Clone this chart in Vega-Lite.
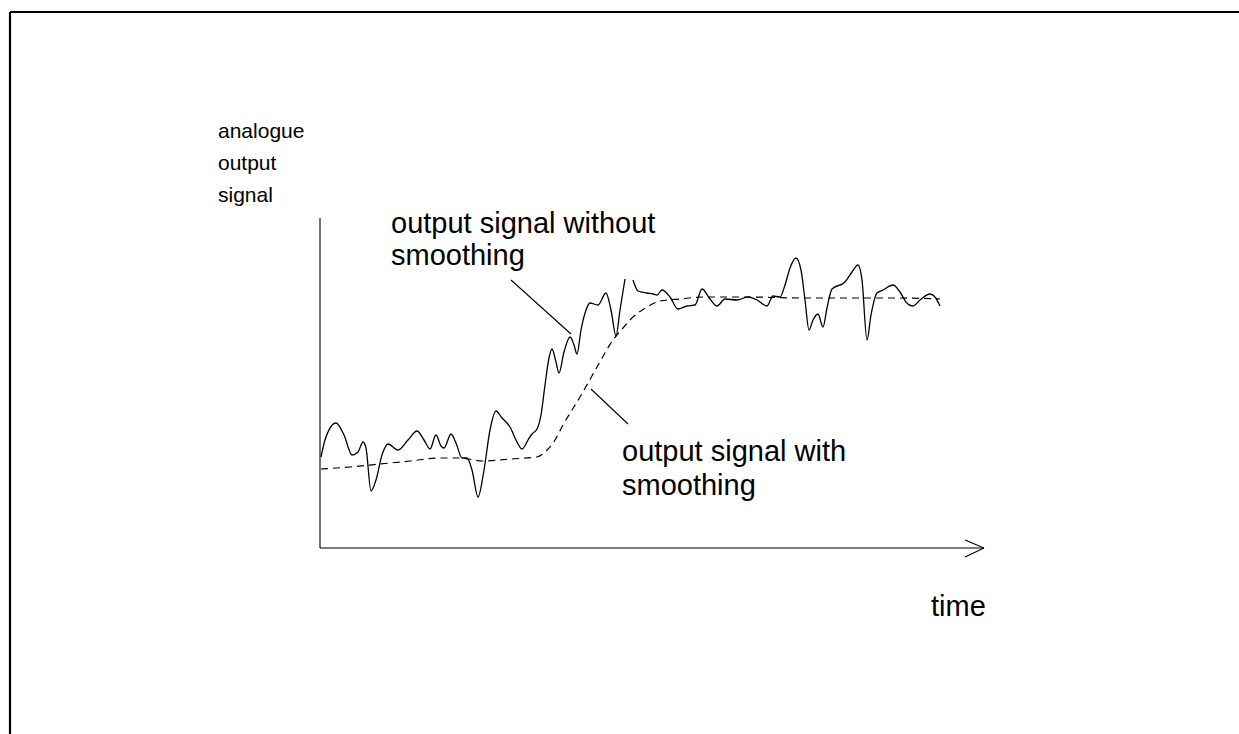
{
  "$schema": "https://vega.github.io/schema/vega-lite/v6.json",
  "width": 1239,
  "height": 734,
  "padding": 0,
  "autosize": {"type": "none"},
  "background": "white",
  "config": {"view": {"stroke": null}},
  "datasets": {
    "noisy": [
      {"time": 321, "level": 457, "seg": "a"}, {"time": 325, "level": 440, "seg": "a"}, {"time": 336, "level": 423, "seg": "a"},
      {"time": 344, "level": 435, "seg": "a"}, {"time": 352, "level": 455, "seg": "a"}, {"time": 358, "level": 452, "seg": "a"},
      {"time": 363, "level": 442, "seg": "a"}, {"time": 366, "level": 448, "seg": "a"}, {"time": 371, "level": 491, "seg": "a"},
      {"time": 376, "level": 480, "seg": "a"}, {"time": 382, "level": 455, "seg": "a"}, {"time": 388, "level": 444, "seg": "a"},
      {"time": 398, "level": 450, "seg": "a"}, {"time": 408, "level": 440, "seg": "a"}, {"time": 417, "level": 431, "seg": "a"},
      {"time": 424, "level": 440, "seg": "a"}, {"time": 430, "level": 449, "seg": "a"}, {"time": 436, "level": 435, "seg": "a"},
      {"time": 441, "level": 446, "seg": "a"}, {"time": 444, "level": 448, "seg": "a"}, {"time": 451, "level": 434, "seg": "a"},
      {"time": 456, "level": 443, "seg": "a"}, {"time": 462, "level": 458, "seg": "a"}, {"time": 467, "level": 458, "seg": "a"},
      {"time": 472, "level": 470, "seg": "a"}, {"time": 478, "level": 497, "seg": "a"}, {"time": 484, "level": 470, "seg": "a"},
      {"time": 490, "level": 430, "seg": "a"}, {"time": 496, "level": 411, "seg": "a"}, {"time": 502, "level": 418, "seg": "a"},
      {"time": 507, "level": 423, "seg": "a"}, {"time": 510, "level": 427, "seg": "a"}, {"time": 516, "level": 440, "seg": "a"},
      {"time": 522, "level": 449, "seg": "a"}, {"time": 528, "level": 440, "seg": "a"}, {"time": 532, "level": 434, "seg": "a"},
      {"time": 537, "level": 429, "seg": "a"}, {"time": 541, "level": 415, "seg": "a"}, {"time": 545, "level": 385, "seg": "a"},
      {"time": 549, "level": 358, "seg": "a"}, {"time": 552, "level": 349, "seg": "a"}, {"time": 556, "level": 362, "seg": "a"},
      {"time": 559, "level": 373, "seg": "a"}, {"time": 564, "level": 352, "seg": "a"}, {"time": 570, "level": 337, "seg": "a"},
      {"time": 574, "level": 345, "seg": "a"}, {"time": 577, "level": 354, "seg": "a"}, {"time": 581, "level": 330, "seg": "a"},
      {"time": 586, "level": 310, "seg": "a"}, {"time": 590, "level": 303, "seg": "a"}, {"time": 598, "level": 305, "seg": "a"},
      {"time": 606, "level": 293, "seg": "a"}, {"time": 611, "level": 310, "seg": "a"}, {"time": 616, "level": 336, "seg": "a"},
      {"time": 620, "level": 310, "seg": "a"}, {"time": 625, "level": 279, "seg": "a"},
      {"time": 633, "level": 280, "seg": "b"}, {"time": 638, "level": 291, "seg": "b"}, {"time": 647, "level": 293, "seg": "b"},
      {"time": 653, "level": 294, "seg": "b"}, {"time": 657, "level": 295, "seg": "b"}, {"time": 662, "level": 290, "seg": "b"},
      {"time": 670, "level": 297, "seg": "b"}, {"time": 678, "level": 309, "seg": "b"}, {"time": 687, "level": 306, "seg": "b"},
      {"time": 695, "level": 305, "seg": "b"}, {"time": 702, "level": 289, "seg": "b"}, {"time": 710, "level": 299, "seg": "b"},
      {"time": 717, "level": 306, "seg": "b"}, {"time": 725, "level": 299, "seg": "b"}, {"time": 737, "level": 300, "seg": "b"},
      {"time": 748, "level": 297, "seg": "b"}, {"time": 757, "level": 300, "seg": "b"}, {"time": 767, "level": 306, "seg": "b"},
      {"time": 773, "level": 296, "seg": "b"}, {"time": 780, "level": 297, "seg": "b"}, {"time": 785, "level": 285, "seg": "b"},
      {"time": 790, "level": 268, "seg": "b"}, {"time": 796, "level": 258, "seg": "b"}, {"time": 801, "level": 270, "seg": "b"},
      {"time": 805, "level": 300, "seg": "b"}, {"time": 809, "level": 330, "seg": "b"}, {"time": 813, "level": 320, "seg": "b"},
      {"time": 818, "level": 314, "seg": "b"}, {"time": 823, "level": 327, "seg": "b"}, {"time": 827, "level": 308, "seg": "b"},
      {"time": 832, "level": 289, "seg": "b"}, {"time": 845, "level": 282, "seg": "b"}, {"time": 852, "level": 272, "seg": "b"},
      {"time": 858, "level": 265, "seg": "b"}, {"time": 862, "level": 280, "seg": "b"}, {"time": 867, "level": 340, "seg": "b"},
      {"time": 871, "level": 315, "seg": "b"}, {"time": 877, "level": 293, "seg": "b"}, {"time": 883, "level": 290, "seg": "b"},
      {"time": 893, "level": 285, "seg": "b"}, {"time": 900, "level": 292, "seg": "b"}, {"time": 906, "level": 302, "seg": "b"},
      {"time": 913, "level": 306, "seg": "b"}, {"time": 920, "level": 300, "seg": "b"}, {"time": 930, "level": 294, "seg": "b"},
      {"time": 935, "level": 297, "seg": "b"}, {"time": 940, "level": 306, "seg": "b"}
    ],
    "smooth": [
      {"time": 321, "level": 469}, {"time": 350, "level": 467}, {"time": 380, "level": 464}, {"time": 410, "level": 461},
      {"time": 440, "level": 458}, {"time": 460, "level": 458}, {"time": 483, "level": 461}, {"time": 510, "level": 459},
      {"time": 537, "level": 457}, {"time": 545, "level": 452}, {"time": 555, "level": 440}, {"time": 563, "level": 425},
      {"time": 580, "level": 397}, {"time": 597, "level": 367}, {"time": 613, "level": 340}, {"time": 623, "level": 328},
      {"time": 630, "level": 320}, {"time": 647, "level": 307}, {"time": 660, "level": 301}, {"time": 680, "level": 299},
      {"time": 703, "level": 297}, {"time": 750, "level": 297}, {"time": 800, "level": 298}, {"time": 850, "level": 298},
      {"time": 900, "level": 298}, {"time": 940, "level": 299}
    ],
    "frame": [
      {"time": 10, "level": 12, "time2": 1239, "level2": 12},
      {"time": 10, "level": 12, "time2": 10, "level2": 734}
    ],
    "strokes": [
      {"time": 320, "level": 218, "time2": 320, "level2": 548},
      {"time": 320, "level": 548, "time2": 984, "level2": 548},
      {"time": 965, "level": 540, "time2": 984, "level2": 548},
      {"time": 965, "level": 557, "time2": 984, "level2": 548},
      {"time": 511, "level": 280, "time2": 571, "level2": 334},
      {"time": 591, "level": 389, "time2": 628, "level2": 424}
    ],
    "labels": [
      {"time": 218, "level": 138, "text": "analogue", "size": "small"},
      {"time": 218, "level": 170, "text": "output", "size": "small"},
      {"time": 218, "level": 202, "text": "signal", "size": "small"},
      {"time": 391, "level": 233, "text": "output signal without", "size": "large"},
      {"time": 391, "level": 265, "text": "smoothing", "size": "large"},
      {"time": 622, "level": 461, "text": "output signal with", "size": "large"},
      {"time": 622, "level": 495, "text": "smoothing", "size": "large"},
      {"time": 931, "level": 616, "text": "time", "size": "large"}
    ]
  },
  "encoding": {
    "x": {"field": "time", "type": "quantitative", "scale": {"domain": [0, 1239], "nice": false, "zero": false}, "axis": null},
    "y": {"field": "level", "type": "quantitative", "scale": {"domain": [734, 0], "nice": false, "zero": false}, "axis": null}
  },
  "layer": [
    {
      "data": {"name": "frame"},
      "mark": {"type": "rule", "stroke": "black", "strokeWidth": 2.2},
      "encoding": {"x2": {"field": "time2"}, "y2": {"field": "level2"}}
    },
    {
      "data": {"name": "strokes"},
      "mark": {"type": "rule", "stroke": "black", "strokeWidth": 1.1},
      "encoding": {"x2": {"field": "time2"}, "y2": {"field": "level2"}}
    },
    {
      "data": {"name": "smooth"},
      "mark": {"type": "line", "stroke": "black", "strokeWidth": 1.2, "strokeDash": [7, 5], "interpolate": "monotone"},
      "encoding": {}
    },
    {
      "data": {"name": "noisy"},
      "mark": {"type": "line", "stroke": "black", "strokeWidth": 1.3, "interpolate": "monotone"},
      "encoding": {"detail": {"field": "seg"}}
    },
    {
      "data": {"name": "labels"},
      "mark": {"type": "text", "align": "left", "baseline": "alphabetic", "font": "Liberation Sans", "fill": "black"},
      "encoding": {
        "text": {"field": "text"},
        "size": {"field": "size", "type": "nominal", "scale": {"domain": ["small", "large"], "range": [21, 29]}, "legend": null}
      }
    }
  ]
}
